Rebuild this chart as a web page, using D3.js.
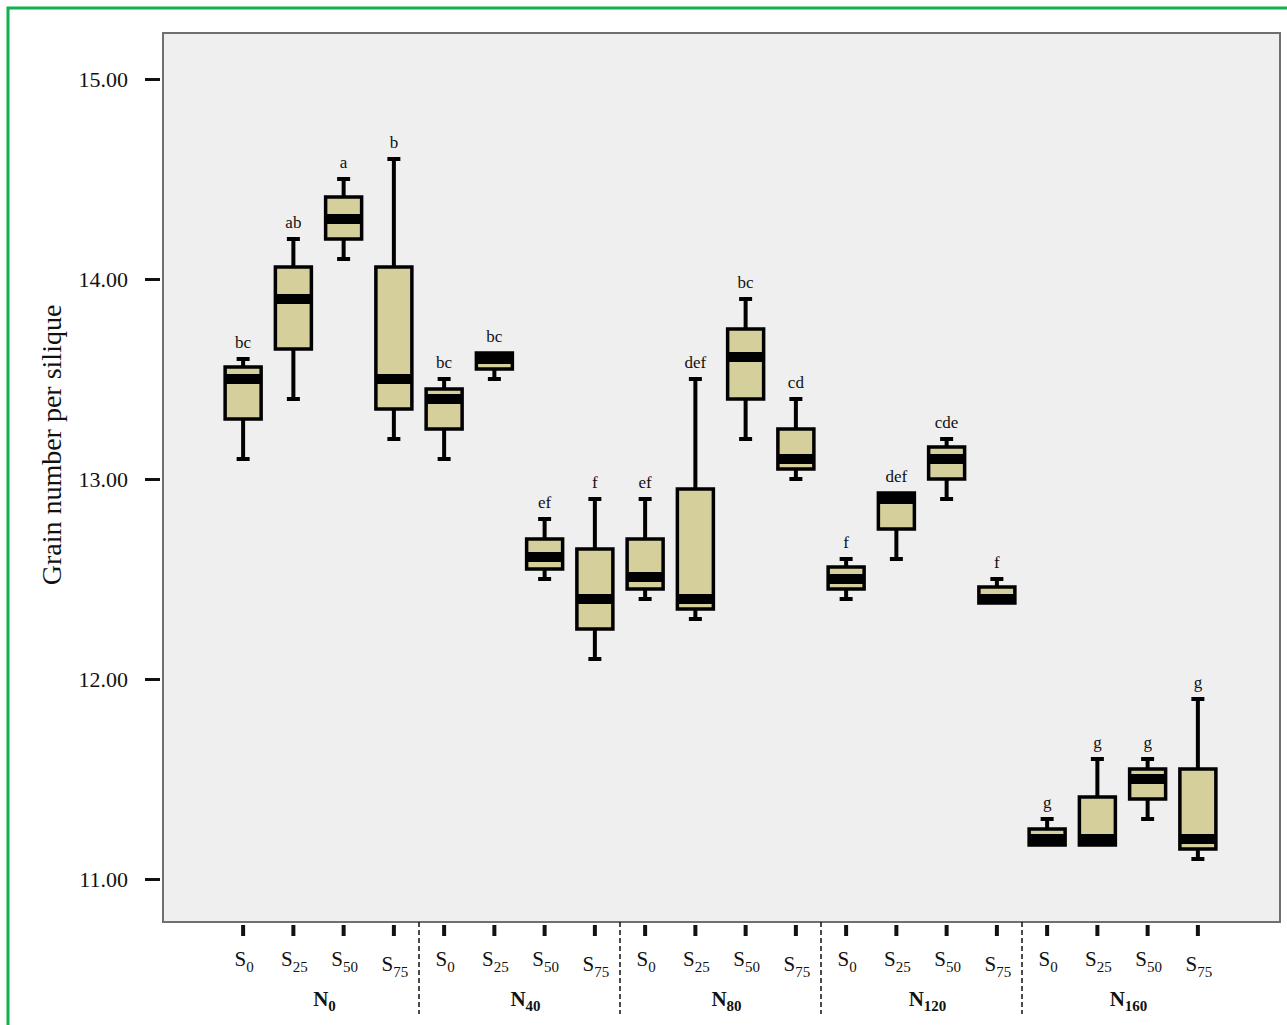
<!DOCTYPE html>
<html>
<head>
<meta charset="utf-8">
<script src="https://cdn.jsdelivr.net/npm/d3@7"></script>
<style>
  body { margin: 0; background: #ffffff; }
  svg { display: block; }
  text { font-family: "Liberation Serif", "Times New Roman", serif; fill: #111; }
</style>
</head>
<body>
<svg id="chart" width="1287" height="1025"></svg>
<script>
// categories
const groups = ['N0', 'N40', 'N80', 'N120', 'N160'];
const levels = ['S0', 'S25', 'S50', 'S75'];

// box statistics, ordered N0 S0..S75, N40 S0..S75, ...
const mins    = [13.10, 13.40, 14.10, 13.20,  13.10, 13.50, 12.50, 12.10,  12.40, 12.30, 13.20, 13.00,  12.40, 12.60, 12.90, 12.38,  11.17, 11.17, 11.30, 11.10];
const q1s     = [13.30, 13.65, 14.20, 13.35,  13.25, 13.55, 12.55, 12.25,  12.45, 12.35, 13.40, 13.05,  12.45, 12.75, 13.00, 12.38,  11.17, 11.17, 11.40, 11.15];
const medians = [13.50, 13.90, 14.30, 13.50,  13.40, 13.60, 12.61, 12.40,  12.51, 12.40, 13.61, 13.10,  12.50, 12.90, 13.10, 12.40,  11.20, 11.20, 11.50, 11.20];
const q3s     = [13.56, 14.06, 14.41, 14.06,  13.45, 13.63, 12.70, 12.65,  12.70, 12.95, 13.75, 13.25,  12.56, 12.93, 13.16, 12.46,  11.25, 11.41, 11.55, 11.55];
const maxs    = [13.60, 14.20, 14.50, 14.60,  13.50, 13.63, 12.80, 12.90,  12.90, 13.50, 13.90, 13.40,  12.60, 12.93, 13.20, 12.50,  11.30, 11.60, 11.60, 11.90];
const letters = ['bc', 'ab', 'a', 'b',  'bc', 'bc', 'ef', 'f',  'ef', 'def', 'bc', 'cd',  'f', 'def', 'cde', 'f',  'g', 'g', 'g', 'g'];

const yTicks = [11, 12, 13, 14, 15];

const FILL_BOX = '#d4cf9b';
const FILL_PLOT = '#efefef';
const BOX_W = 36;
const CAP_W = 13;
const MEDIAN_H = 10;

const svg = d3.select('#chart');

// outer frame
svg.append('rect')
  .attr('x', 8).attr('y', 8)
  .attr('width', 1300).attr('height', 1040)
  .attr('fill', 'none')
  .attr('stroke', '#13b04f')
  .attr('stroke-width', 3);

const plot = { left: 163, top: 33, right: 1280, bottom: 922 };

const y = d3.scaleLinear().domain([11, 15]).range([879, 79]);
const xGroup = d3.scaleBand().domain(groups).range([218, 1223]);
const xLevel = d3.scaleBand().domain(levels).range([0, xGroup.bandwidth()]);

const rows = [];
groups.forEach((g, gi) => {
  levels.forEach((s, si) => {
    const i = gi * levels.length + si;
    rows.push({
      group: g, level: s,
      min: mins[i], q1: q1s[i], median: medians[i], q3: q3s[i], max: maxs[i],
      letter: letters[i],
      cx: xGroup(g) + xLevel(s) + xLevel.bandwidth() / 2,
    });
  });
});

// plot background
svg.append('rect')
  .attr('x', plot.left).attr('y', plot.top)
  .attr('width', plot.right - plot.left).attr('height', plot.bottom - plot.top)
  .attr('fill', FILL_PLOT)
  .attr('stroke', '#6f6f6f')
  .attr('stroke-width', 2);

// y axis
const yAxis = svg.append('g')
  .attr('transform', 'translate(160,0)')
  .call(d3.axisLeft(y).tickValues(yTicks).tickFormat(d3.format('.2f')).tickSize(15).tickPadding(17));
yAxis.select('.domain').remove();
yAxis.selectAll('.tick line').attr('stroke', '#111').attr('stroke-width', 3);
yAxis.selectAll('.tick text')
  .attr('font-size', 22)
  .attr('font-family', '"Liberation Serif", serif')
  .attr('fill', '#222');

svg.append('text')
  .attr('transform', 'translate(61,445) rotate(-90)')
  .attr('text-anchor', 'middle')
  .attr('font-size', 28)
  .text('Grain number per silique');

// x axis: one small axis per N group
groups.forEach(g => {
  const ax = svg.append('g')
    .attr('transform', `translate(${xGroup(g)},925)`)
    .call(d3.axisBottom(xLevel).tickSize(11).tickFormat(''));
  ax.select('.domain').remove();
  ax.selectAll('.tick line').attr('stroke', '#111').attr('stroke-width', 4);
});

// S labels
const levelDy = { S0: 0, S25: 0, S50: 0, S75: 5 };
const sLabels = svg.append('g').selectAll('text')
  .data(rows)
  .join('text')
  .attr('x', d => d.cx + 1)
  .attr('y', d => 966 + levelDy[d.level])
  .attr('text-anchor', 'middle')
  .attr('font-size', 21)
  .attr('fill', '#222');
sLabels.append('tspan').text('S');
sLabels.append('tspan')
  .attr('font-size', 15)
  .attr('dy', 6)
  .text(d => d.level.slice(1));

// N labels
const nLabels = svg.append('g').selectAll('text')
  .data(groups)
  .join('text')
  .attr('x', g => xGroup(g) + xGroup.bandwidth() / 2 + 6)
  .attr('y', 1006)
  .attr('text-anchor', 'middle')
  .attr('font-size', 21)
  .attr('font-weight', 'bold');
nLabels.append('tspan').text('N');
nLabels.append('tspan')
  .attr('font-size', 15)
  .attr('dy', 5)
  .text(g => g.slice(1));

// dashed separators between groups
svg.append('g').selectAll('line')
  .data(groups.slice(1))
  .join('line')
  .attr('x1', g => xGroup(g)).attr('x2', g => xGroup(g))
  .attr('y1', plot.bottom).attr('y2', 1014)
  .attr('stroke', '#111')
  .attr('stroke-width', 1.5)
  .attr('stroke-dasharray', '5,3');

// boxes
const boxes = svg.append('g').selectAll('g')
  .data(rows)
  .join('g');

boxes.append('line')
  .attr('x1', d => d.cx).attr('x2', d => d.cx)
  .attr('y1', d => y(d.max)).attr('y2', d => y(d.min))
  .attr('stroke', '#000')
  .attr('stroke-width', 4);

boxes.filter(d => d.max > d.q3).append('line')
  .attr('x1', d => d.cx - CAP_W / 2).attr('x2', d => d.cx + CAP_W / 2)
  .attr('y1', d => y(d.max)).attr('y2', d => y(d.max))
  .attr('stroke', '#000')
  .attr('stroke-width', 4);

boxes.filter(d => d.min < d.q1).append('line')
  .attr('x1', d => d.cx - CAP_W / 2).attr('x2', d => d.cx + CAP_W / 2)
  .attr('y1', d => y(d.min)).attr('y2', d => y(d.min))
  .attr('stroke', '#000')
  .attr('stroke-width', 4);

boxes.append('rect')
  .attr('x', d => d.cx - BOX_W / 2)
  .attr('y', d => y(d.q3))
  .attr('width', BOX_W)
  .attr('height', d => y(d.q1) - y(d.q3))
  .attr('fill', FILL_BOX);

boxes.append('rect')
  .attr('x', d => d.cx - BOX_W / 2)
  .attr('y', d => Math.max(y(d.q3), y(d.median) - MEDIAN_H / 2))
  .attr('width', BOX_W)
  .attr('height', d => Math.min(y(d.q1), y(d.median) + MEDIAN_H / 2) - Math.max(y(d.q3), y(d.median) - MEDIAN_H / 2))
  .attr('fill', '#000');

boxes.append('rect')
  .attr('x', d => d.cx - BOX_W / 2)
  .attr('y', d => y(d.q3))
  .attr('width', BOX_W)
  .attr('height', d => y(d.q1) - y(d.q3))
  .attr('fill', 'none')
  .attr('stroke', '#000')
  .attr('stroke-width', 3.5);

// significance letters
boxes.append('text')
  .attr('x', d => d.cx)
  .attr('y', d => y(d.max) - 11)
  .attr('text-anchor', 'middle')
  .attr('font-size', 17)
  .attr('fill', '#222')
  .text(d => d.letter);
</script>
</body>
</html>
